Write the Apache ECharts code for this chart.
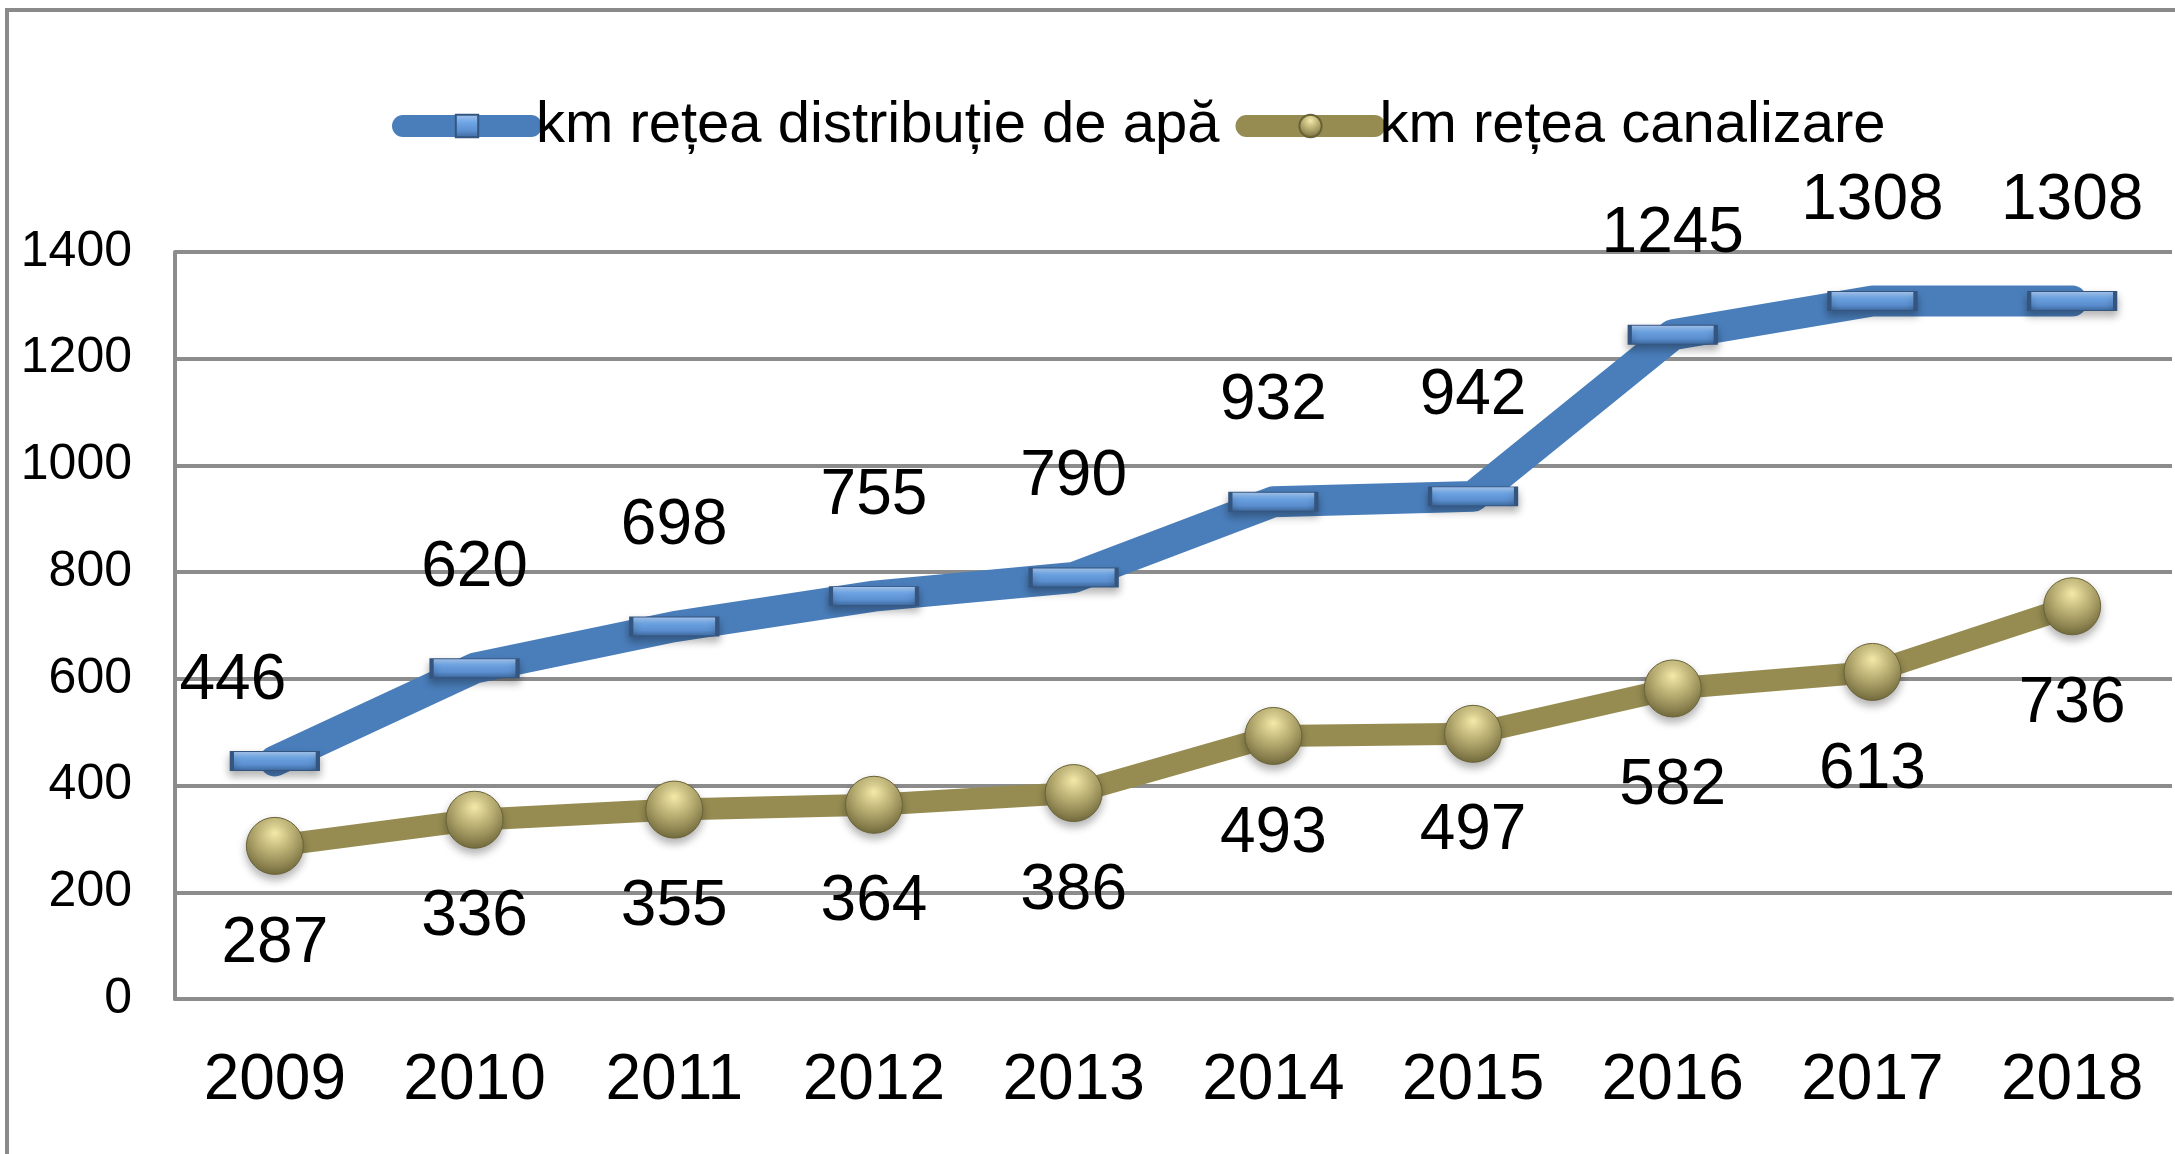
<!DOCTYPE html>
<html>
<head>
<meta charset="utf-8">
<script src="https://cdn.jsdelivr.net/npm/echarts@6/dist/echarts.min.js"></script>
<style>
html,body{margin:0;padding:0;background:#fff;}
#chart{width:2175px;height:1154px;}
</style>
</head>
<body>
<div id="chart"></div>
<script>
const years = ['2009','2010','2011','2012','2013','2014','2015','2016','2017','2018'];
const waterKm = [446, 620, 698, 755, 790, 932, 942, 1245, 1308, 1308];
const sewerKm = [287, 336, 355, 364, 386, 493, 497, 582, 613, 736];
const waterName = 'km rețea distribuție de apă';
const sewerName = 'km rețea canalizare';
const yTicks = [0, 200, 400, 600, 800, 1000, 1200, 1400];

const FONT = '"Liberation Sans", Arial, Helvetica, sans-serif';
const chart = echarts.init(document.getElementById('chart'), null, {renderer: 'canvas'});

const blueMarker = {
  type: 'linear', x: 0, y: 0, x2: 0, y2: 1,
  colorStops: [
    {offset: 0, color: '#a9c6ec'},
    {offset: 0.35, color: '#6ea6e6'},
    {offset: 0.7, color: '#5b8fd0'},
    {offset: 1, color: '#3c6699'}
  ]
};
const oliveMarker = {
  type: 'radial', x: 0.5, y: 0.28, r: 0.75,
  colorStops: [
    {offset: 0, color: '#f3e9a8'},
    {offset: 0.45, color: '#b9ae72'},
    {offset: 1, color: '#6d6539'}
  ]
};

const waterData = waterKm.map((v, i) => {
  if (i === 0) return {value: v, label: {offset: [-42, 20]}};
  return v;
});

chart.setOption({
  backgroundColor: '#ffffff',
  animation: false,
  graphic: [{
    type: 'rect', silent: true, z: -10,
    shape: {x: 7, y: 10, width: 2400, height: 1400},
    style: {fill: 'none', stroke: '#8a8a8a', lineWidth: 4}
  }],
  legend: {
    left: 392, top: 97, padding: 0,
    itemWidth: 128, itemHeight: 28, itemGap: 16,
    textStyle: {fontFamily: FONT, fontSize: 58, color: '#000'},
    lineStyle: {width: 22, cap: 'round'},
    data: [waterName, sewerName]
  },
  grid: {left: 175, right: 3, top: 252, bottom: 155, containLabel: false, outerBoundsMode: 'none'},
  xAxis: {
    type: 'category', data: years, boundaryGap: true,
    axisLine: {show: true, lineStyle: {color: '#8c8c8c', width: 4}},
    axisTick: {show: false},
    axisLabel: {fontFamily: FONT, fontSize: 64, color: '#000', margin: 50}
  },
  yAxis: {
    type: 'value', min: yTicks[0], max: yTicks[yTicks.length - 1], interval: 200,
    axisLine: {show: true, lineStyle: {color: '#8c8c8c', width: 4}},
    axisTick: {show: false},
    splitLine: {show: true, lineStyle: {color: '#8c8c8c', width: 4}},
    axisLabel: {fontFamily: FONT, fontSize: 50, color: '#000', margin: 43,
      formatter: v => String(v)}
  },
  series: [
    {
      name: waterName, type: 'line', data: waterData,
      symbol: 'rect', symbolSize: [86, 19],
      lineStyle: {color: '#4a7ebb', width: 31, cap: 'round', join: 'round'},
      itemStyle: {color: blueMarker, borderColor: '#34557f', borderWidth: 2,
        shadowBlur: 8, shadowOffsetY: 5, shadowColor: 'rgba(0,0,0,0.3)'},
      label: {show: true, position: 'top', distance: 58,
        fontFamily: FONT, fontSize: 64, color: '#000'},
      z: 3
    },
    {
      name: sewerName, type: 'line', data: sewerKm,
      symbol: 'circle', symbolSize: 57,
      lineStyle: {color: '#968c52', width: 22, cap: 'round', join: 'round'},
      itemStyle: {color: oliveMarker, borderColor: '#6a6337', borderWidth: 1,
        shadowBlur: 8, shadowOffsetY: 5, shadowColor: 'rgba(0,0,0,0.3)'},
      label: {show: true, position: 'bottom', distance: 37,
        fontFamily: FONT, fontSize: 64, color: '#000'},
      z: 2
    }
  ]
});
</script>
</body>
</html>
